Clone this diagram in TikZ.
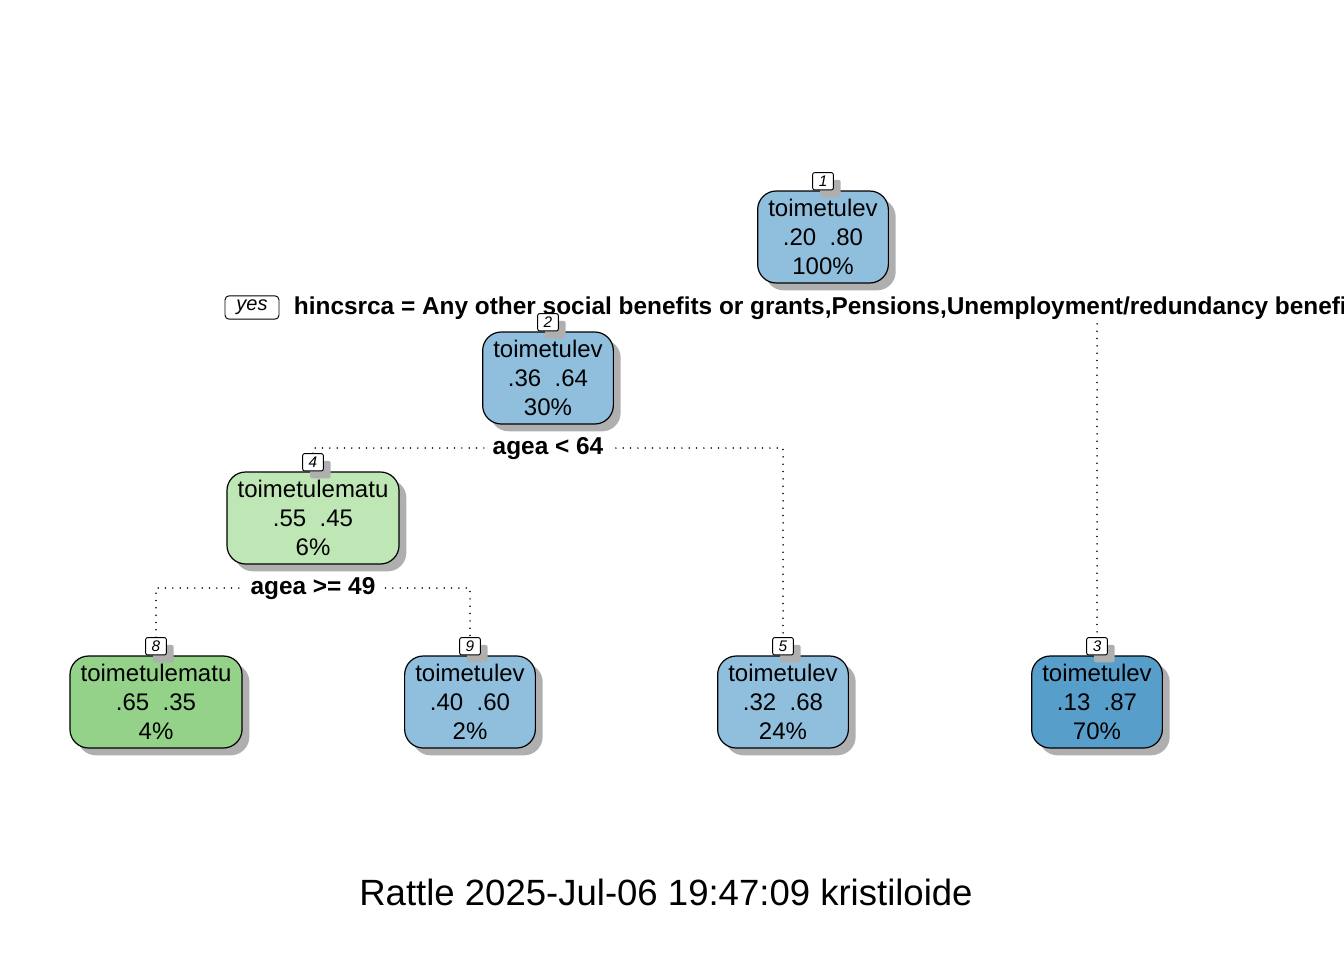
\documentclass[tikz,border=0pt]{standalone}
\usepackage{fontspec}
\setmainfont{Liberation Sans}
\usetikzlibrary{shadows,backgrounds}
\definecolor{blueA}{RGB}{143,191,221}
\definecolor{blueB}{RGB}{88,158,203}
\definecolor{greenA}{RGB}{191,230,181}
\definecolor{greenB}{RGB}{147,210,136}
\definecolor{shade}{RGB}{175,175,175}
\tikzset{
  tshadow/.style={drop shadow={shadow xshift=5.5pt, shadow yshift=-5.5pt, fill=shade, opacity=1}},
  treebox/.style={draw=black, line width=0.9pt, rounded corners=14pt, tshadow,
    minimum height=69pt, inner xsep=8pt, inner ysep=0pt, align=center,
    font=\fontsize{18}{21.75}\selectfont},
  numlab/.style={draw=black, line width=0.7pt, fill=white, rounded corners=1.5pt, tshadow,
    minimum width=15.5pt, minimum height=13pt, inner sep=0pt, anchor=south,
    font=\fontsize{11.5}{12}\selectfont\itshape},
  splitlab/.style={fill=white, inner xsep=5pt, inner ysep=1pt, font=\fontsize{18.3}{21}\selectfont\bfseries},
  dotline/.style={line width=1.3pt, line cap=round, dash pattern=on 0pt off 5.5pt},
}
\begin{document}
\begin{tikzpicture}[x=0.75pt,y=-0.75pt]
\useasboundingbox (0,0) rectangle (1344,960);
% split labels (drawn first so that node number boxes lie over them)
\node[draw=black, line width=0.7pt, rounded corners=3pt, minimum width=40.5pt, minimum height=17.5pt,
  inner sep=0pt, font=\fontsize{15}{16}\selectfont\itshape] (yes) at (252,307.5) {yes};
\node[splitlab, anchor=west, inner xsep=2pt] (s1) at (291,308.5) {hincsrca = Any other social benefits or grants,Pensions,Unemployment/redundancy benefits};
\node[splitlab] (s2) at (548,448.5) {agea < 64};
\node[splitlab] (s4) at (313,588.5) {agea >= 49};
% nodes
\node[treebox, fill=blueA] (n1) at (823,237) {toimetulev\\.20\ \ .80\\100\%};
\node[numlab] (l1) at (n1.north) {1};
\node[treebox, fill=blueA] (n2) at (548,378) {toimetulev\\.36\ \ .64\\30\%};
\node[numlab] (l2) at (n2.north) {2};
\node[treebox, fill=greenA] (n4) at (313,518) {toimetulematu\\.55\ \ .45\\6\%};
\node[numlab] (l4) at (n4.north) {4};
\node[treebox, fill=greenB] (n8) at (156,702) {toimetulematu\\.65\ \ .35\\4\%};
\node[numlab] (l8) at (n8.north) {8};
\node[treebox, fill=blueA] (n9) at (470,702) {toimetulev\\.40\ \ .60\\2\%};
\node[numlab] (l9) at (n9.north) {9};
\node[treebox, fill=blueA] (n5) at (783,702) {toimetulev\\.32\ \ .68\\24\%};
\node[numlab] (l5) at (n5.north) {5};
\node[treebox, fill=blueB] (n3) at (1097,702) {toimetulev\\.13\ \ .87\\70\%};
\node[numlab] (l3) at (n3.north) {3};
\coordinate (c1) at (823,307);
\coordinate (c2) at (548,448);
\coordinate (c4) at (313,588);
% connectors
\begin{scope}[on background layer]
\draw[dotline] (l2.north) |- (c1) -| (l3.north);
\draw[dotline] (l4.north) |- (c2) -| (l5.north);
\draw[dotline] (l8.north) |- (c4) -| (l9.north);
\end{scope}
% title
\node[font=\fontsize{27.4}{32}\selectfont] (title) at (666,892) {Rattle 2025-Jul-06 19:47:09 kristiloide};
\end{tikzpicture}
\end{document}
